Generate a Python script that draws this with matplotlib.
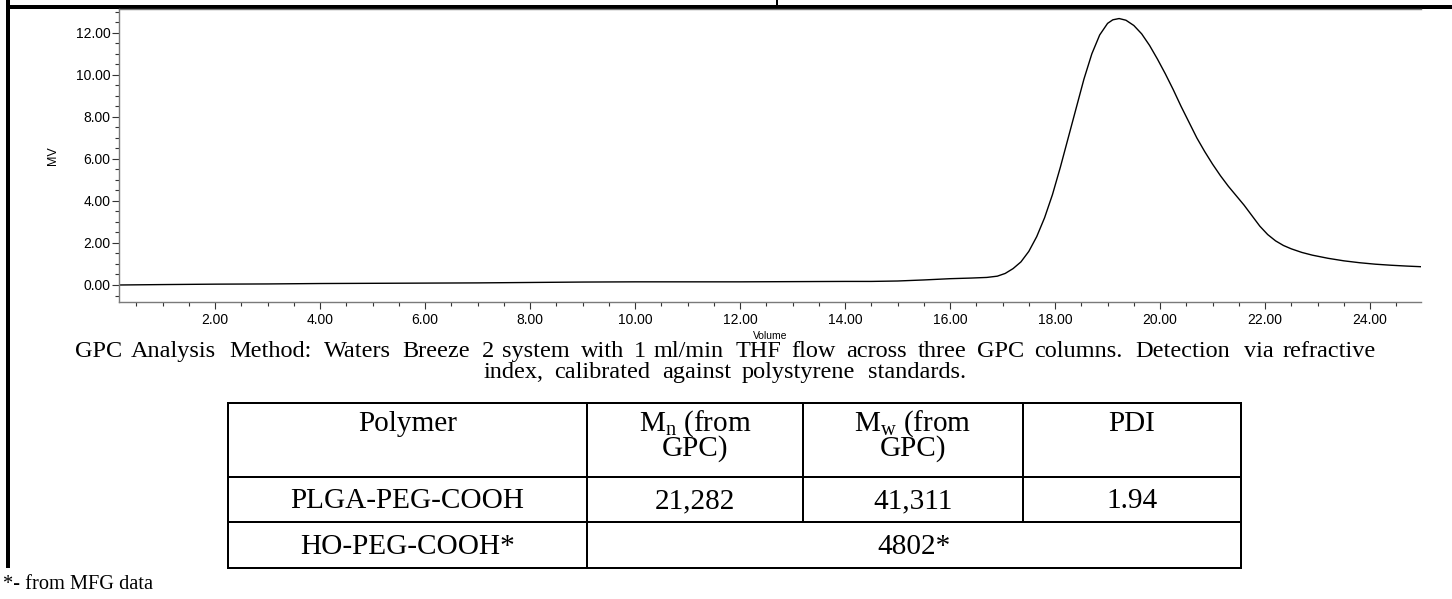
import matplotlib
matplotlib.use('Agg')
import matplotlib.pyplot as plt
from matplotlib.lines import Line2D
from matplotlib.ticker import FixedLocator, MultipleLocator

# ---------------- data ----------------
volume = [0.17, 1.0, 2.0, 3.0, 4.0, 5.0, 6.0, 7.0, 8.0, 9.0, 10.0, 11.0, 12.0, 13.0,
          14.0, 14.5, 15.0, 15.5, 16.0, 16.4, 16.7, 16.9, 17.05, 17.2, 17.35, 17.5,
          17.65, 17.8, 17.95, 18.1, 18.25, 18.4, 18.55, 18.7, 18.85, 19.0, 19.1,
          19.22, 19.35, 19.5, 19.65, 19.8, 19.95, 20.1, 20.25, 20.4, 20.55, 20.7,
          20.85, 21.0, 21.15, 21.3, 21.45, 21.6, 21.75, 21.9, 22.05, 22.2, 22.35,
          22.5, 22.7, 22.9, 23.2, 23.5, 23.8, 24.1, 24.4, 24.7, 24.97]
signal_mv = [0.00, 0.02, 0.04, 0.05, 0.07, 0.08, 0.09, 0.10, 0.12, 0.14, 0.15, 0.15,
             0.15, 0.16, 0.17, 0.17, 0.19, 0.24, 0.30, 0.33, 0.36, 0.42, 0.55, 0.78,
             1.10, 1.60, 2.30, 3.20, 4.30, 5.60, 7.00, 8.40, 9.80, 11.00, 11.90,
             12.45, 12.62, 12.68, 12.60, 12.35, 11.95, 11.40, 10.75, 10.05, 9.30,
             8.50, 7.75, 7.00, 6.35, 5.75, 5.20, 4.70, 4.25, 3.80, 3.30, 2.80, 2.40,
             2.10, 1.88, 1.72, 1.55, 1.42, 1.27, 1.15, 1.06, 0.99, 0.94, 0.90, 0.87]

x_ticks = [2, 4, 6, 8, 10, 12, 14, 16, 18, 20, 22, 24]
x_tick_labels = ["2.00", "4.00", "6.00", "8.00", "10.00", "12.00", "14.00",
                 "16.00", "18.00", "20.00", "22.00", "24.00"]
y_ticks = [0, 2, 4, 6, 8, 10, 12]
y_tick_labels = ["0.00", "2.00", "4.00", "6.00", "8.00", "10.00", "12.00"]
x_label = "Volume"
y_label = "MV"

caption_lines = ["GPC Analysis Method: Waters Breeze 2 system with 1 ml/min THF flow "
                 "across three GPC columns. Detection via refractive",
                 "index, calibrated against polystyrene standards."]
table_header = ["Polymer",
                "M$_{\\mathrm{n}}$ (from\nGPC)",
                "M$_{\\mathrm{w}}$ (from\nGPC)",
                "PDI"]
row_polymers = ["PLGA-PEG-COOH", "HO-PEG-COOH*"]
row_mn = ["21,282"]
row_mw = ["41,311"]
row_pdi = ["1.94"]
merged_value = "4802*"
footnote = "*- from MFG data"

# ---------------- style ----------------
SERIF = "Liberation Serif"
SANS = "Liberation Sans"
plt.rcParams['mathtext.fontset'] = 'custom'
plt.rcParams['mathtext.rm'] = SERIF
plt.rcParams['mathtext.it'] = SERIF + ':italic'
plt.rcParams['mathtext.bf'] = SERIF + ':bold'

W, H = 1452, 599
fig = plt.figure(figsize=(W / 100, H / 100), dpi=100)
fig.patch.set_facecolor('white')

# overlay in pixel coordinates (document frame, caption, table)
ov = fig.add_axes([0, 0, 1, 1])
ov.set_xlim(0, W)
ov.set_ylim(H, 0)
ov.axis('off')
ov.patch.set_visible(False)

PX = 72 / 100.0  # points per pixel

def hline(x0, x1, y, lw_px, color='black'):
    ov.add_line(Line2D([x0, x1], [y, y], lw=lw_px * PX, color=color,
                       solid_capstyle='butt'))

def vline(x, y0, y1, lw_px, color='black'):
    ov.add_line(Line2D([x, x], [y0, y1], lw=lw_px * PX, color=color,
                       solid_capstyle='butt'))

# document frame
hline(6, W, 6.7, 4)
vline(8, 0, 568, 4)
vline(777, 0, 5, 2)

renderer = fig.canvas.get_renderer()

def measure(s, fs):
    """width, top-to-baseline, baseline-to-bottom (pixels)"""
    t = ov.text(100, 300, s, fontsize=fs, family=SERIF, va='baseline')
    bb = t.get_window_extent(renderer)
    t.remove()
    base_disp = H - 300
    return bb.width, bb.y1 - base_disp, base_disp - bb.y0

def fit_size(s, target_w):
    return 20 * target_w / measure(s, 20)[0]

def stretched_line(s, x0, x1, y, fs):
    words = s.split(' ')
    starts = [0.0]
    for k in range(1, len(words)):
        full = measure(' '.join(words[:k + 1]), fs)[0]
        starts.append(full - measure(words[k], fs)[0])
    w_last = measure(words[-1], fs)[0]
    f = ((x1 - x0) - w_last) / starts[-1]
    for k, wd in enumerate(words):
        ov.text(x0 + starts[k] * f, y, wd, fontsize=fs, family=SERIF,
                ha='left', va='baseline', color='black')

def txt(s, x, y, fs, ha='center'):
    ov.text(x, y, s, fontsize=fs, family=SERIF, ha=ha, va='baseline', color='black')

def two_line(s, x, base1, gap, fs):
    l1, l2 = s.split('\n')
    _, a1, d1 = measure(l1, fs)
    _, a2, d2 = measure(l2, fs)
    ls = (gap - d1) / a2
    ov.text(x, base1 - a1, s, fontsize=fs, family=SERIF, ha='center', va='top',
            multialignment='center', linespacing=ls, color='black')

# caption
cap_fs = fit_size(caption_lines[0], 1301) * 0.93
stretched_line(caption_lines[0], 75, 1376, 357, cap_fs)
stretched_line(caption_lines[1], 484, 966, 378, cap_fs)

# table
col_edges = [228, 587, 803, 1023, 1241]
row_edges = [403, 477, 522, 568]
centers = [(col_edges[i] + col_edges[i + 1]) / 2 for i in range(4)]
tab_fs = fit_size(row_polymers[0], 251) * 0.93
tlw = 2
for y in row_edges:
    hline(col_edges[0] - 1, col_edges[-1] + 1, y, tlw)
vline(col_edges[0], row_edges[0], row_edges[-1], tlw)
vline(col_edges[-1], row_edges[0], row_edges[-1], tlw)
vline(col_edges[1], row_edges[0], row_edges[-1], tlw)
vline(col_edges[2], row_edges[0], row_edges[2], tlw)
vline(col_edges[3], row_edges[0], row_edges[2], tlw)

for ci, s in enumerate(table_header):
    if '\n' in s:
        two_line(s, centers[ci], 431, 25, tab_fs)
    else:
        txt(s, centers[ci], 431, tab_fs)
txt(row_polymers[0], centers[0], 508, tab_fs)
txt(row_mn[0], centers[1], 508, tab_fs)
txt(row_mw[0], centers[2], 508, tab_fs)
txt(row_pdi[0], centers[3], 508, tab_fs)
txt(row_polymers[1], centers[0], 554, tab_fs)
txt(merged_value, (col_edges[1] + col_edges[-1]) / 2, 554, tab_fs)

# footnote
txt(footnote, 3, 589, fit_size(footnote, 150), ha='left')

# ---------------- chart ----------------
ax_l, ax_r, ax_t, ax_b = 119, 1421, 9.3, 301.7
ax = fig.add_axes([ax_l / W, 1 - ax_b / H, (ax_r - ax_l) / W, (ax_b - ax_t) / H])
ax.patch.set_visible(False)
ax.plot(volume, signal_mv, color='black', lw=1.0)

ax.set_xlim(0.17, 24.97)
ax.set_ylim(-0.795, 13.12)

spine_c = '#7a7a7a'
for side in ['left', 'bottom', 'top']:
    ax.spines[side].set_color(spine_c)
    ax.spines[side].set_linewidth(1.0)
ax.spines['right'].set_visible(False)

ax.xaxis.set_major_locator(FixedLocator(x_ticks))
ax.set_xticklabels(x_tick_labels)
ax.xaxis.set_minor_locator(MultipleLocator(0.5))
ax.yaxis.set_major_locator(FixedLocator(y_ticks))
ax.set_yticklabels(y_tick_labels)
ax.yaxis.set_minor_locator(MultipleLocator(0.5))

ax.tick_params(axis='both', which='major', length=5 * PX * 1.4, width=0.8,
               color='#333333', labelsize=10, direction='out')
ax.tick_params(axis='both', which='minor', length=3 * PX * 1.4, width=0.8,
               color='#333333', direction='out')
ax.tick_params(axis='y', which='major', pad=1)
ax.tick_params(axis='x', which='major', pad=3)
ax.tick_params(top=False, which='both')
for lab in ax.get_xticklabels() + ax.get_yticklabels():
    lab.set_family(SANS)

ax.set_ylabel(y_label, family=SANS, fontsize=9)
ax.yaxis.set_label_coords(-0.046, 0.5)
ax.set_xlabel(x_label, family=SANS, fontsize=7.5)
ax.xaxis.set_label_coords(0.5, -0.1)

fig.savefig('out.png', dpi=100)
